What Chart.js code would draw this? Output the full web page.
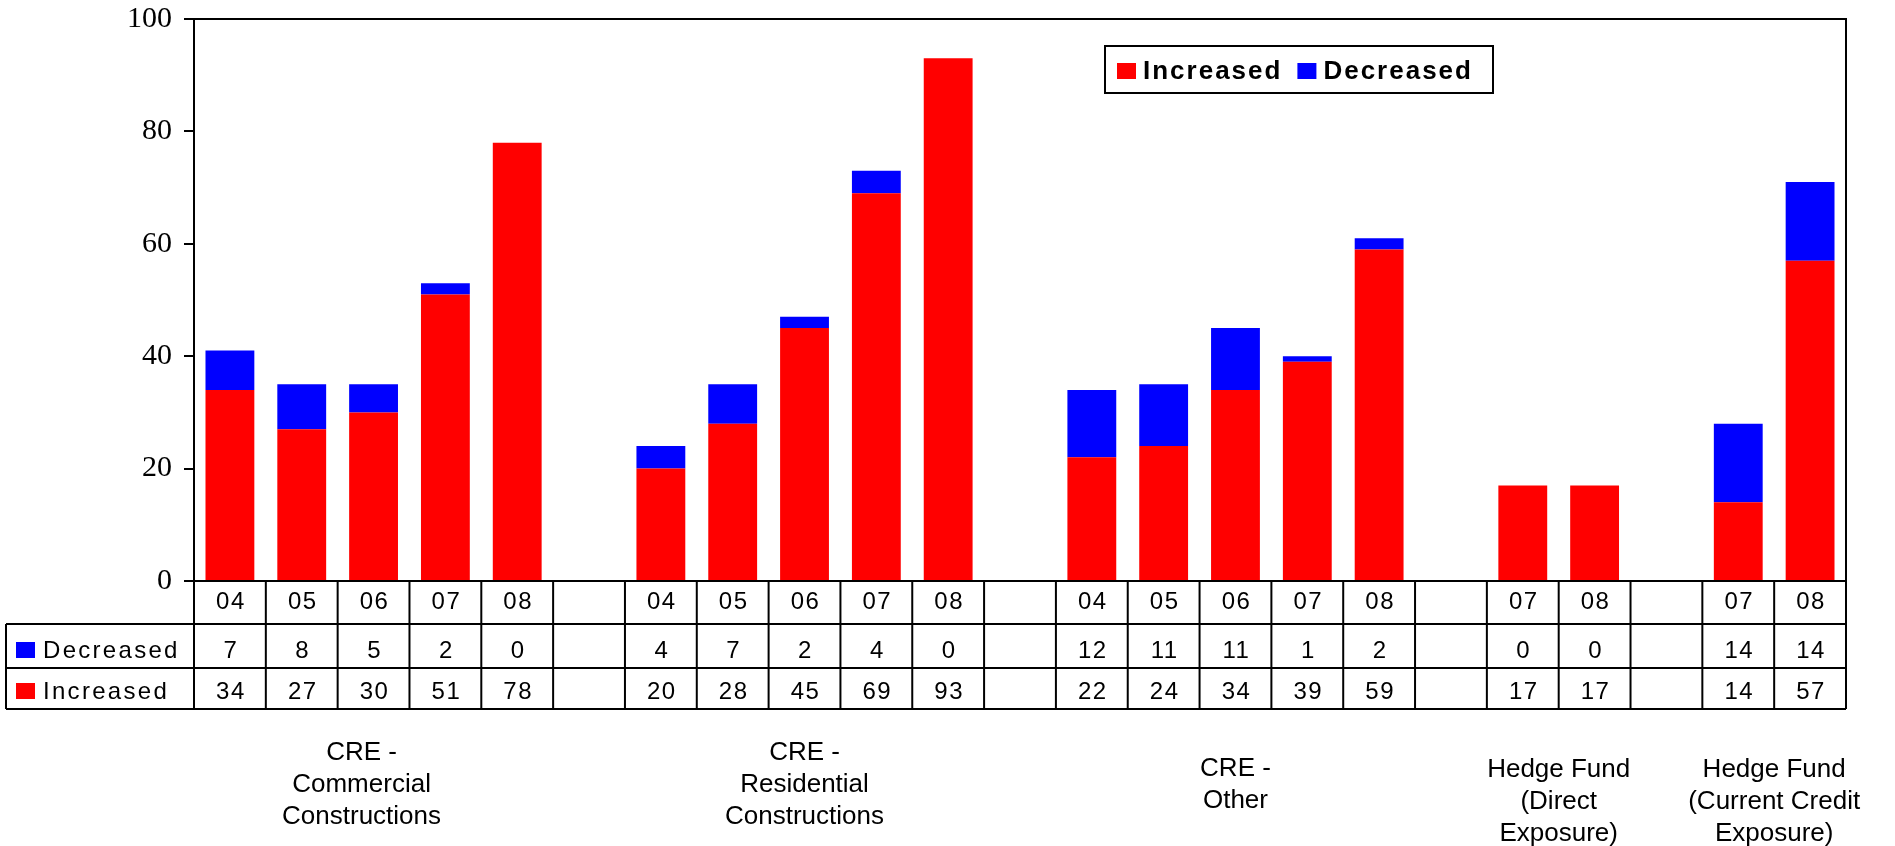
<!DOCTYPE html>
<html>
<head>
<meta charset="utf-8">
<script src="https://cdn.jsdelivr.net/npm/chart.js@4"></script>
<style>
  html, body { margin: 0; padding: 0; background: #fff; }
  canvas { display: block; }
</style>
</head>
<body>
<canvas id="chart" width="1895" height="846"></canvas>
<script>
const years = ["04", "05", "06", "07", "08", "", "04", "05", "06", "07", "08", "", "04", "05", "06", "07", "08", "", "07", "08", "", "07", "08"];
const increased = [34, 27, 30, 51, 78, null, 20, 28, 45, 69, 93, null, 22, 24, 34, 39, 59, null, 17, 17, null, 14, 57];
const decreased = [7, 8, 5, 2, 0, null, 4, 7, 2, 4, 0, null, 12, 11, 11, 1, 2, null, 0, 0, null, 14, 14];
const yTicks = [0, 20, 40, 60, 80, 100];

const groupNames = [
  ["CRE -", "Commercial", "Constructions"],
  ["CRE -", "Residential", "Constructions"],
  ["CRE -", "Other"],
  ["Hedge Fund", "(Direct", "Exposure)"],
  ["Hedge Fund", "(Current Credit", "Exposure)"]
];
const groupSpans = [[0, 4], [6, 10], [12, 16], [18, 19], [21, 22]];

const RED = "#ff0000";
const BLUE = "#0000ff";
const SANS = "'Liberation Sans', Arial, sans-serif";

// table rows under the plot: row heights and text baselines (offset from row top)
const rowHeights = [43, 44, 41];
const rowBase = [28, 34, 31];
// first baseline and x nudge of each group label
const groupBase = [760, 760, 776, 777, 777];
const groupShift = [-12, 0, 0, 0, 0];

const tablePlugin = {
  id: "dataTable",
  afterDraw(chart) {
    const ctx = chart.ctx;
    const xs = chart.scales.x;
    const area = chart.chartArea;
    const step = xs.getPixelForValue(1) - xs.getPixelForValue(0);
    const tops = [area.bottom];
    rowHeights.forEach(h => tops.push(tops[tops.length - 1] + h));
    const bottom = tops[3];

    ctx.save();
    ctx.strokeStyle = "#000";
    ctx.lineWidth = 2;

    // plot frame
    ctx.strokeRect(area.left, area.top, area.right - area.left, area.bottom - area.top);

    // table grid
    ctx.beginPath();
    ctx.moveTo(6, tops[1]); ctx.lineTo(area.right, tops[1]);
    ctx.moveTo(6, tops[2]); ctx.lineTo(area.right, tops[2]);
    ctx.moveTo(6, bottom); ctx.lineTo(area.right, bottom);
    ctx.moveTo(6, tops[1]); ctx.lineTo(6, bottom);
    for (let i = 0; i <= years.length; i++) {
      const px = xs.getPixelForValue(0) - step / 2 + i * step;
      ctx.moveTo(px, tops[0]); ctx.lineTo(px, bottom);
    }
    ctx.stroke();

    // cell texts
    ctx.fillStyle = "#000";
    ctx.textAlign = "center";
    ctx.textBaseline = "alphabetic";
    ctx.font = "24px " + SANS;
    ctx.letterSpacing = "1.5px";
    const rows = [years, decreased, increased];
    rows.forEach((vals, r) => {
      vals.forEach((v, i) => {
        if (v === null || v === "") return;
        ctx.fillText(String(v), xs.getPixelForValue(i) + 1, tops[r] + rowBase[r]);
      });
    });

    // series names in the left column
    ctx.textAlign = "left";
    ctx.font = "24px " + SANS;
    ctx.letterSpacing = "2.3px";
    const names = [["Decreased", BLUE], ["Increased", RED]];
    names.forEach(([name, col], k) => {
      const base = tops[k + 1] + rowBase[k + 1];
      ctx.fillStyle = col;
      ctx.fillRect(16, base - 16, 19, 16);
      ctx.fillStyle = "#000";
      ctx.fillText(name, 43, base);
    });

    // group labels
    ctx.letterSpacing = "0px";
    ctx.textAlign = "center";
    ctx.font = "26px " + SANS;
    groupNames.forEach((lines, g) => {
      const [a, b] = groupSpans[g];
      const cx = (xs.getPixelForValue(a) + xs.getPixelForValue(b)) / 2 + groupShift[g];
      lines.forEach((t, l) => ctx.fillText(t, cx, groupBase[g] + l * 32));
    });
    ctx.restore();
  }
};

const legendPlugin = {
  id: "boxLegend",
  afterDraw(chart) {
    const ctx = chart.ctx;
    const box = { left: 1105, top: 46, right: 1493, bottom: 93 };
    ctx.save();
    ctx.fillStyle = "#fff";
    ctx.fillRect(box.left, box.top, box.right - box.left, box.bottom - box.top);
    ctx.strokeStyle = "#000";
    ctx.lineWidth = 2;
    ctx.strokeRect(box.left, box.top, box.right - box.left, box.bottom - box.top);
    ctx.font = "bold 26px " + SANS;
    ctx.letterSpacing = "2px";
    ctx.textBaseline = "alphabetic";
    let px = box.left + 12;
    const base = 79;
    chart.data.datasets.forEach(ds => {
      ctx.fillStyle = ds.backgroundColor;
      ctx.fillRect(px, base - 16, 19, 16);
      px += 26;
      ctx.fillStyle = "#000";
      ctx.fillText(ds.label, px, base);
      px += ctx.measureText(ds.label).width + 15;
    });
    ctx.restore();
  }
};

new Chart(document.getElementById("chart"), {
  type: "bar",
  data: {
    labels: years,
    datasets: [
      { label: "Increased", data: increased, backgroundColor: RED },
      { label: "Decreased", data: decreased, backgroundColor: BLUE }
    ]
  },
  options: {
    responsive: false,
    animation: false,
    layout: { padding: { top: 19, bottom: 265, left: 0, right: 49 } },
    plugins: {
      legend: { display: false },
      tooltip: { enabled: false }
    },
    datasets: { bar: { categoryPercentage: 1, barPercentage: 0.68 } },
    scales: {
      x: { stacked: true, display: false },
      y: {
        stacked: true,
        min: 0,
        max: 100,
        afterFit: s => { s.width = 194; s.paddingTop = 0; s.paddingBottom = 0; },
        afterBuildTicks: s => { s.ticks = yTicks.map(v => ({ value: v })); },
        border: { display: true, color: "#000", width: 2 },
        grid: { drawOnChartArea: false, drawTicks: true, tickLength: 10, color: "#000", lineWidth: 2 },
        ticks: { color: "#000", padding: 12, font: { family: "'Liberation Serif', 'Times New Roman', serif", size: 30 } }
      }
    }
  },
  plugins: [tablePlugin, legendPlugin]
});
</script>
</body>
</html>
